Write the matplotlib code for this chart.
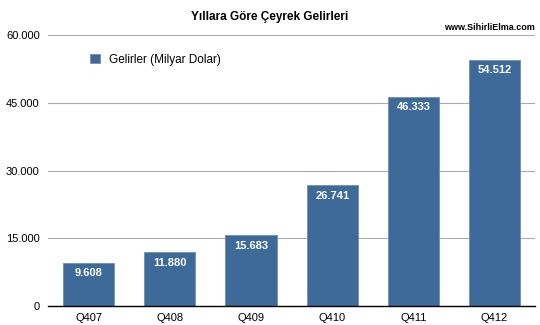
import numpy as np
import matplotlib
matplotlib.use('Agg')
import matplotlib.pyplot as plt

quarters = ['Q407', 'Q408', 'Q409', 'Q410', 'Q411', 'Q412']
revenue = [9608, 11880, 15683, 26741, 46333, 54512]
value_labels = ['9.608', '11.880', '15.683', '26.741', '46.333', '54.512']
yticks = [0, 15000, 30000, 45000, 60000]
ytick_labels = ['0', '15.000', '30.000', '45.000', '60.000']

bar_color = '#3e6a9a'

plt.rcParams['font.family'] = ['Liberation Sans', 'DejaVu Sans']

fig = plt.figure(figsize=(5.4, 3.25), dpi=100)
fig.patch.set_facecolor('white')
ax = fig.add_axes([0.089, 0.058, 0.902, 0.834])

x = np.arange(len(quarters))
bars = ax.bar(x, revenue, width=0.63, color=bar_color, edgecolor='#6f8fb3',
              linewidth=0.6, zorder=3, label='Gelirler (Milyar Dolar)')

for xi, v, lab in zip(x, revenue, value_labels):
    ax.text(xi, v - 2300, lab, ha='center', va='center', color='white',
            fontsize=8, fontweight='bold', zorder=4)

ax.set_xlim(-0.5, len(quarters) - 0.5)
ax.set_ylim(0, 60000)
ax.set_yticks(yticks)
ax.set_yticklabels(ytick_labels, fontsize=8)
ax.set_xticks(x)
ax.set_xticklabels(quarters, fontsize=8)
ax.tick_params(axis='both', length=0, pad=6)
ax.tick_params(axis='x', pad=5)
ax.grid(axis='y', color='#aaaaaa', linewidth=0.8, zorder=0)
for s in ['left', 'right', 'top']:
    ax.spines[s].set_visible(False)
ax.spines['bottom'].set_color('black')
ax.spines['bottom'].set_linewidth(1.0)
ax.spines['bottom'].set_zorder(5)

ax.legend(loc='upper left', bbox_to_anchor=(0.065, 0.97), frameon=False,
          fontsize=8.5, handlelength=0.8, handleheight=0.8, handletextpad=0.8)

fig.text(0.5, 0.948, 'Yıllara Göre Çeyrek Gelirleri', ha='center', va='center',
         fontsize=8.5, fontweight='bold')
fig.text(0.991, 0.914, 'www.SihirliElma.com', ha='right', va='center',
         fontsize=6.5, fontweight='bold')

fig.savefig('out.png', dpi=100)
